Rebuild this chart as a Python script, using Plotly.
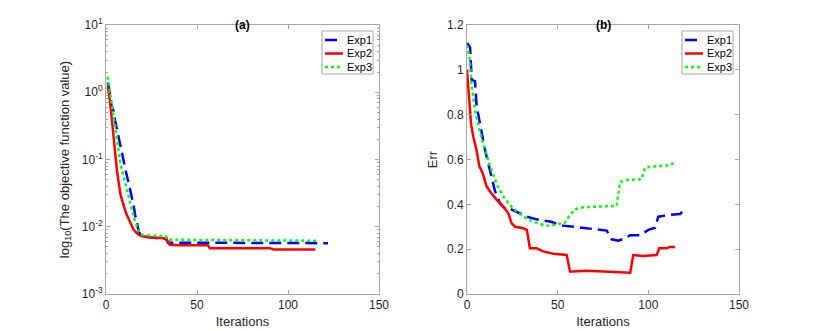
import plotly.graph_objects as go

# ---- data ----
# (a) objective function value (log scale)
a_exp1_x = [1, 2, 3, 4, 5, 6, 7, 8, 9, 10, 11, 12, 13, 14, 15, 16, 17, 18, 19, 20, 25, 30, 33, 34, 40, 60, 80, 100, 122]
a_exp1_y = [1.4, 1.0, 0.62, 0.55, 0.38, 0.28, 0.2, 0.15, 0.11, 0.085, 0.065, 0.05, 0.038, 0.03, 0.022, 0.015, 0.011, 0.0085, 0.0076, 0.0072, 0.0069, 0.0068, 0.0066, 0.0058, 0.0058, 0.0058, 0.0057, 0.0057, 0.0057]

a_exp2_x = [1, 2, 3, 4, 5, 6, 7, 8, 9, 10, 11, 12, 13, 14, 15, 16, 17, 18, 20, 25, 30, 33, 34, 35, 40, 56, 57, 90, 92, 115]
a_exp2_y = [1.2, 0.8, 0.45, 0.22, 0.12, 0.07, 0.045, 0.03, 0.024, 0.019, 0.016, 0.014, 0.012, 0.0105, 0.0092, 0.0085, 0.008, 0.0076, 0.0072, 0.0069, 0.0068, 0.0067, 0.006, 0.0054, 0.0053, 0.0053, 0.0048, 0.0048, 0.0046, 0.0046]

a_exp3_x = [1, 2, 3, 4, 5, 6, 7, 8, 9, 10, 11, 12, 13, 14, 15, 16, 17, 18, 19, 20, 25, 30, 33, 34, 60, 90, 116]
a_exp3_y = [1.7, 1.1, 0.75, 0.45, 0.28, 0.17, 0.12, 0.085, 0.065, 0.05, 0.04, 0.032, 0.025, 0.019, 0.015, 0.012, 0.0098, 0.0086, 0.0079, 0.0076, 0.0074, 0.0073, 0.0072, 0.0064, 0.0063, 0.0062, 0.0062]

# (b) Err
b_exp1_x = [0, 1.7, 2.6, 4.4, 5.3, 8, 10, 12.7, 15.4, 18.2, 21, 23.7, 29, 33, 38.4, 45.8, 53, 60.5, 69.7, 77, 79.8, 83.5, 86, 90, 95.4, 100, 103.7, 105.5, 112, 117.5, 119]
b_exp1_y = [1.12, 1.10, 0.955, 0.95, 0.84, 0.72, 0.64, 0.55, 0.46, 0.405, 0.38, 0.38, 0.36, 0.345, 0.333, 0.323, 0.305, 0.298, 0.289, 0.283, 0.244, 0.238, 0.245, 0.262, 0.262, 0.286, 0.296, 0.345, 0.353, 0.357, 0.368]

b_exp2_x = [0, 2.2, 3.5, 5.3, 6.8, 8.6, 10.8, 12.7, 16.4, 20, 22.8, 24.6, 26.5, 31, 33, 34.7, 38.4, 42, 47.6, 55, 56.8, 58.6, 66, 75, 90, 91.7, 97, 104.6, 106, 110, 112, 114.7]
b_exp2_y = [1.0, 0.76, 0.70, 0.64, 0.57, 0.54, 0.48, 0.457, 0.42, 0.39, 0.36, 0.315, 0.30, 0.293, 0.286, 0.204, 0.204, 0.19, 0.18, 0.174, 0.10, 0.10, 0.104, 0.10, 0.095, 0.174, 0.17, 0.174, 0.204, 0.204, 0.21, 0.21]

b_exp3_x = [0, 1.3, 2.6, 4.4, 7.2, 10, 12.7, 16.4, 20, 23.7, 27.4, 32, 36.6, 42, 45.8, 50.4, 54, 56.8, 59.6, 64, 71.5, 82.5, 84.4, 88, 96.3, 98, 101, 110, 112.9, 115.6]
b_exp3_y = [1.11, 1.06, 0.925, 0.82, 0.72, 0.64, 0.57, 0.49, 0.435, 0.397, 0.368, 0.342, 0.323, 0.308, 0.304, 0.3125, 0.318, 0.353, 0.378, 0.387, 0.39, 0.393, 0.50, 0.509, 0.512, 0.561, 0.568, 0.573, 0.58, 0.586]

x_ticks = [0, 50, 100, 150]
a_ticks = [1e-3, 1e-2, 1e-1, 1e0, 1e1]
a_ticktext = ["10<sup>-3</sup>", "10<sup>-2</sup>", "10<sup>-1</sup>", "10<sup>0</sup>", "10<sup>1</sup>"]
a_minor = [m * 10 ** e for e in range(-3, 1) for m in range(2, 10)]
b_ticks = [0, 0.2, 0.4, 0.6, 0.8, 1.0, 1.2]
b_ticktext = ["0", "0.2", "0.4", "0.6", "0.8", "1", "1.2"]
legend_names = ["Exp1", "Exp2", "Exp3"]

W, H = 817, 331
FONT = "Liberation Sans, Arial, sans-serif"
TXT = "#262626"
LINE = "#a6a6a6"

colors = ["#0000ff", "#ff0000", "#00ff00"]
dashes = ["12px,6px", "solid", "3px,3px"]

fig = go.Figure()

for name, col, dash, xs, ys in zip(legend_names, colors, dashes, [a_exp1_x, a_exp2_x, a_exp3_x], [a_exp1_y, a_exp2_y, a_exp3_y]):
    fig.add_trace(go.Scatter(x=xs, y=ys, mode="lines", name=name, showlegend=False,
                             line=dict(color=col, dash=dash, width=2.5), xaxis="x", yaxis="y"))

for name, col, dash, xs, ys in zip(legend_names, colors, dashes, [b_exp1_x, b_exp2_x, b_exp3_x], [b_exp1_y, b_exp2_y, b_exp3_y]):
    fig.add_trace(go.Scatter(x=xs, y=ys, mode="lines", name=name, showlegend=False,
                             line=dict(color=col, dash=dash, width=2.5), xaxis="x2", yaxis="y2"))

ax_common = dict(showline=True, linecolor=LINE, linewidth=1, mirror="allticks", automargin=False,
                 ticks="inside", ticklen=4, tickcolor=LINE, showgrid=False, zeroline=False,
                 tickfont=dict(size=12, color=TXT, family=FONT))

left_dom = [106 / W, 379 / W]
right_dom = [467 / W, 739 / W]
y_dom = [1 - 294 / H, 1 - 25 / H]

fig.update_layout(
    width=W, height=H,
    margin=dict(l=0, r=0, t=0, b=0, autoexpand=False),
    paper_bgcolor="white", plot_bgcolor="white",
    font=dict(family=FONT, color=TXT),
    showlegend=False,
    xaxis=dict(domain=left_dom, range=[0, 150], tickvals=x_ticks, anchor="y",
               title=dict(text="Iterations", font=dict(size=13), standoff=5), **ax_common),
    yaxis=dict(domain=y_dom, type="log", range=[-3, 1], tickvals=a_ticks, ticktext=a_ticktext, anchor="x",
               title=dict(text="log<sub>10</sub>(The objective function value)", font=dict(size=13), standoff=9),
               minor=dict(tickvals=a_minor, ticks="inside", ticklen=2, tickcolor=LINE),
               **ax_common),
    xaxis2=dict(domain=right_dom, range=[0, 150], tickvals=x_ticks, anchor="y2",
                title=dict(text="Iterations", font=dict(size=13), standoff=5), **ax_common),
    yaxis2=dict(domain=y_dom, range=[0, 1.2], tickvals=b_ticks, ticktext=b_ticktext, anchor="x2",
                title=dict(text="Err", font=dict(size=13), standoff=6), **ax_common),
)

# panel titles, centred over each axes box
for ref, label in [("x domain", "(a)"), ("x2 domain", "(b)")]:
    fig.add_annotation(text="<b>%s</b>" % label, x=0.5, y=1 - 16 / H,
                       xref=ref, yref="paper", xanchor="center", showarrow=False,
                       font=dict(size=12, color="black", family=FONT))

# MATLAB-style legend boxes drawn in paper coordinates
for box_l, box_r in [(322, 373), (682, 733)]:
    fig.add_shape(type="rect", xref="paper", yref="paper",
                  x0=box_l / W, x1=box_r / W, y0=1 - 74 / H, y1=1 - 31 / H,
                  line=dict(color=LINE, width=1), fillcolor="white", layer="above")
    for i, (name, col, dash) in enumerate(zip(legend_names, colors, dashes)):
        yy = 1 - (40 + i * 13.5) / H
        fig.add_shape(type="line", xref="paper", yref="paper",
                      x0=(box_l + 3) / W, x1=(box_l + 21) / W, y0=yy, y1=yy,
                      line=dict(color=col, dash=dash, width=2.5), layer="above")
        fig.add_annotation(text=name, x=(box_l + 23) / W, y=yy, xref="paper", yref="paper",
                           xanchor="left", yanchor="middle", showarrow=False,
                           font=dict(size=11, color="black", family=FONT))

# the page body has an 8px default margin; drop it so the figure sits at the window origin
fig.write_html("out.html", config={"displayModeBar": False},
               post_script="document.body.style.margin='0';")
